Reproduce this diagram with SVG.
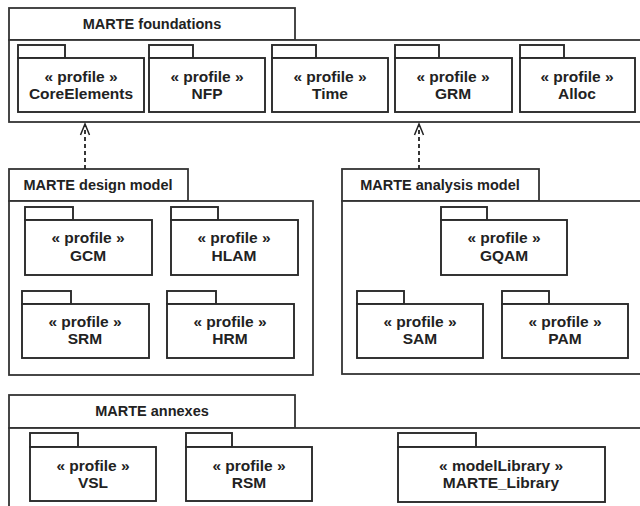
<svg xmlns="http://www.w3.org/2000/svg" width="640" height="506" viewBox="0 0 640 506">
  <style>
    .frame { fill: #fff; stroke: #333; stroke-width: 1.8; }
    .pkg { fill: #fff; stroke: #2a2a2a; stroke-width: 1.9; }
    .title { font-family: "Liberation Sans", Arial, sans-serif; font-weight: bold; font-size: 14.5px; fill: #222; text-anchor: middle; }
    .lbl { font-family: "Liberation Sans", Arial, sans-serif; font-weight: bold; font-size: 15.5px; fill: #222; text-anchor: middle; }
    .dep { fill: none; stroke: #222; stroke-width: 1.8; stroke-dasharray: 4 3; }
    .head { fill: none; stroke: #222; stroke-width: 1.5; }
  </style>
  <rect width="640" height="506" fill="#fff"/>

  <!-- MARTE foundations container -->
  <g id="foundations">
    <rect class="frame" x="9" y="8" width="286" height="32"/>
    <rect class="frame" x="9" y="40" width="640" height="82"/>
    <text class="title" x="152" y="29">MARTE foundations</text>
  </g>
  <g id="CoreElements">
    <rect class="pkg" x="18" y="45" width="47" height="13"/>
    <rect class="pkg" x="18" y="58" width="126" height="54"/>
    <text class="lbl" x="81" y="82">« profile »</text>
    <text class="lbl" x="81" y="99">CoreElements</text>
  </g>
  <g id="NFP">
    <rect class="pkg" x="149" y="45" width="44" height="13"/>
    <rect class="pkg" x="149" y="58" width="116" height="54"/>
    <text class="lbl" x="207" y="82">« profile »</text>
    <text class="lbl" x="207" y="99">NFP</text>
  </g>
  <g id="Time">
    <rect class="pkg" x="272" y="45" width="44" height="13"/>
    <rect class="pkg" x="272" y="58" width="116" height="54"/>
    <text class="lbl" x="330" y="82">« profile »</text>
    <text class="lbl" x="330" y="99">Time</text>
  </g>
  <g id="GRM">
    <rect class="pkg" x="395" y="45" width="44" height="13"/>
    <rect class="pkg" x="395" y="58" width="117" height="54"/>
    <text class="lbl" x="453" y="82">« profile »</text>
    <text class="lbl" x="453" y="99">GRM</text>
  </g>
  <g id="Alloc">
    <rect class="pkg" x="520" y="45" width="44" height="13"/>
    <rect class="pkg" x="520" y="58" width="115" height="54"/>
    <text class="lbl" x="577" y="82">« profile »</text>
    <text class="lbl" x="577" y="99">Alloc</text>
  </g>

  <!-- MARTE design model container -->
  <g id="design">
    <rect class="frame" x="9" y="169" width="179" height="32"/>
    <rect class="frame" x="9" y="201" width="304" height="174"/>
    <text class="title" x="98" y="190">MARTE design model</text>
  </g>
  <g id="GCM">
    <rect class="pkg" x="25" y="207" width="48" height="13"/>
    <rect class="pkg" x="25" y="220" width="127" height="55"/>
    <text class="lbl" x="88" y="243">« profile »</text>
    <text class="lbl" x="88" y="261">GCM</text>
  </g>
  <g id="HLAM">
    <rect class="pkg" x="171" y="207" width="47" height="13"/>
    <rect class="pkg" x="171" y="220" width="127" height="55"/>
    <text class="lbl" x="234" y="243">« profile »</text>
    <text class="lbl" x="234" y="261">HLAM</text>
  </g>
  <g id="SRM">
    <rect class="pkg" x="22" y="291" width="49" height="13"/>
    <rect class="pkg" x="22" y="304" width="127" height="54"/>
    <text class="lbl" x="85" y="327">« profile »</text>
    <text class="lbl" x="85" y="344">SRM</text>
  </g>
  <g id="HRM">
    <rect class="pkg" x="167" y="291" width="49" height="13"/>
    <rect class="pkg" x="167" y="304" width="127" height="54"/>
    <text class="lbl" x="230" y="327">« profile »</text>
    <text class="lbl" x="230" y="344">HRM</text>
  </g>

  <!-- MARTE analysis model container -->
  <g id="analysis">
    <rect class="frame" x="342" y="169" width="197" height="32"/>
    <rect class="frame" x="342" y="201" width="310" height="173"/>
    <text class="title" x="440" y="190">MARTE analysis model</text>
  </g>
  <g id="GQAM">
    <rect class="pkg" x="441" y="207" width="46" height="13"/>
    <rect class="pkg" x="441" y="220" width="126" height="55"/>
    <text class="lbl" x="504" y="243">« profile »</text>
    <text class="lbl" x="504" y="261">GQAM</text>
  </g>
  <g id="SAM">
    <rect class="pkg" x="357" y="291" width="47" height="13"/>
    <rect class="pkg" x="357" y="304" width="126" height="54"/>
    <text class="lbl" x="420" y="327">« profile »</text>
    <text class="lbl" x="420" y="344">SAM</text>
  </g>
  <g id="PAM">
    <rect class="pkg" x="502" y="291" width="47" height="13"/>
    <rect class="pkg" x="502" y="304" width="126" height="54"/>
    <text class="lbl" x="565" y="327">« profile »</text>
    <text class="lbl" x="565" y="344">PAM</text>
  </g>

  <!-- MARTE annexes container (runs past the bottom edge) -->
  <g id="annexes">
    <rect class="frame" x="9" y="395" width="286" height="33"/>
    <rect class="frame" x="9" y="428" width="640" height="100"/>
    <text class="title" x="152" y="416">MARTE annexes</text>
  </g>
  <g id="VSL">
    <rect class="pkg" x="30" y="433" width="48" height="14"/>
    <rect class="pkg" x="30" y="447" width="126" height="54"/>
    <text class="lbl" x="93" y="471">« profile »</text>
    <text class="lbl" x="93" y="488">VSL</text>
  </g>
  <g id="RSM">
    <rect class="pkg" x="186" y="433" width="46" height="14"/>
    <rect class="pkg" x="186" y="447" width="126" height="54"/>
    <text class="lbl" x="249" y="471">« profile »</text>
    <text class="lbl" x="249" y="488">RSM</text>
  </g>
  <g id="MARTE_Library">
    <rect class="pkg" x="398" y="433" width="78" height="14"/>
    <rect class="pkg" x="398" y="447" width="207" height="55"/>
    <text class="lbl" x="501" y="471">« modelLibrary »</text>
    <text class="lbl" x="501" y="488">MARTE_Library</text>
  </g>

  <!-- import dependencies (dashed, open arrowheads) -->
  <g id="connectors">
    <line class="dep" x1="85" y1="169" x2="85" y2="126"/>
    <polyline class="head" points="80.5,135 85,124 89.5,135"/>
    <line class="dep" x1="419" y1="169" x2="419" y2="126"/>
    <polyline class="head" points="414.5,135 419,124 423.5,135"/>
  </g>
</svg>
